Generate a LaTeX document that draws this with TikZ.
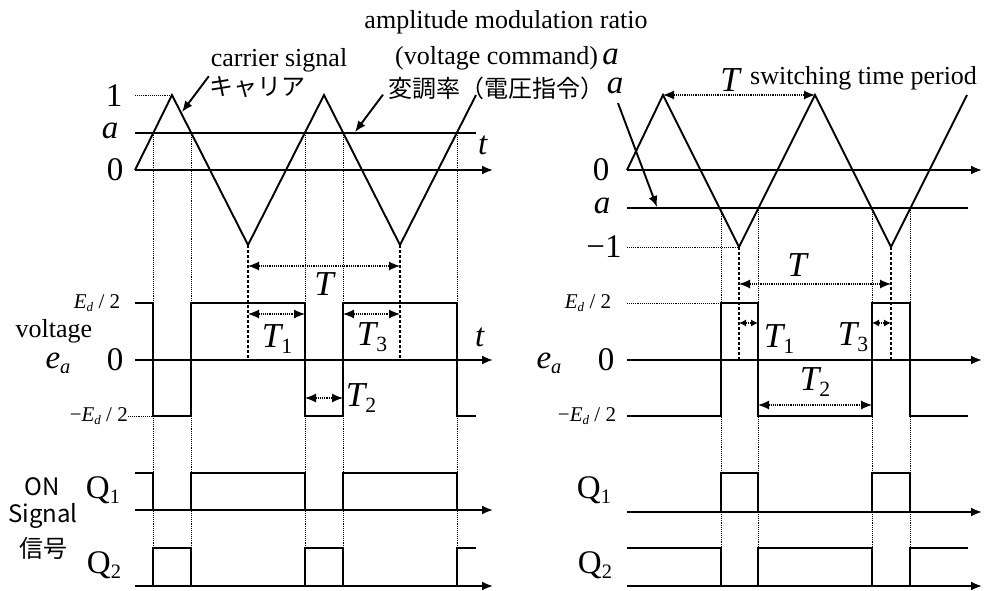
\documentclass[tikz,border=0pt]{standalone}
\usepackage{fontspec}
\usepackage{graphicx}
\setmainfont{Liberation Serif}
\newfontfamily\jpfont{Noto Sans CJK JP}
\usetikzlibrary{arrows.meta}
\newcommand{\sbs}[1]{\raisebox{-0.35ex}{\scalebox{0.62}{#1}}}

\begin{document}
\begin{tikzpicture}[
x=1pt, y=-1pt,
>={Latex[length=11pt,width=9pt]},
every node/.style={
inner sep=0pt,
font=\fontsize{26}{28}\selectfont
},
num/.style={font=\fontsize{33}{35}\selectfont},
big/.style={font=\fontsize{35}{37}\selectfont\itshape},
sml/.style={font=\fontsize{21}{23}\selectfont},
jp/.style={font=\fontsize{24}{26}\selectfont\jpfont},
wave/.style={line width=1.9pt},
ax/.style={line width=1.9pt, ->},
guide/.style={densely dotted, line width=0.9pt},
drop/.style={dash pattern=on 3pt off 2pt, line width=1.5pt},
span/.style={densely dotted, line width=1.2pt, <->},
narrow/.style={densely dotted, line width=1.2pt, {Latex[length=7pt,width=7pt]}-{Latex[length=7pt,width=7pt]}}
]

\useasboundingbox (0,0) rectangle (984,590);

\node (AM) at (506,22)
{amplitude modulation ratio};

\node[anchor=west] (VC) at (395,58)
{(voltage command)\,\textit{\fontsize{33}{35}\selectfont a}};

\node (CS) at (279,60)
{carrier signal};

\node[jp] (K) at (257,87)
{キャリア};

\node[jp, anchor=west] (M) at (388,88)
{変調率（電圧指令）};

\node[num] (Ma) at (615,86)
{\textit{a}};

\node[big] (ST) at (730,80)
{T};

\node[anchor=west] (SW) at (750,78)
{switching time period};

\coordinate (k) at (182,112);
\coordinate (m) at (355,132);
\coordinate (r) at (657,207);

\draw[wave,->] (K.north west) -- (k);
\draw[wave,->] ([shift={(-5,-5)}]M.south west) -- (m);
\draw[wave,->] ([shift={(3,9)}]Ma.south) -- (r);

\draw[ax] (135,170) -- (493,170);
\draw[wave] (135,133) -- (476,133);
\draw[guide] (135,95) -- (172,95);
\draw[wave] (135,170) -- (172,95) -- (248,245) -- (324,95) -- (400,245) -- (476,95);
\draw[guide] (153,133) -- (153,586);
\draw[guide] (191,133) -- (191,586);
\draw[guide] (305,133) -- (305,586);
\draw[guide] (343,133) -- (343,586);
\draw[guide] (457,133) -- (457,586);
\draw[drop] (248,245) -- (248,360);
\draw[drop] (400,245) -- (400,360);

\draw[ax] (135,360) -- (493,360);
\draw[wave] (135,303) -- (153,303) -- (153,416) -- (191,416) -- (191,303) -- (305,303) -- (305,416) -- (343,416) -- (343,303) -- (457,303) -- (457,416) -- (476,416);

\draw[ax] (135,510) -- (493,510);
\draw[wave] (135,473) -- (153,473) -- (153,510);
\draw[wave] (191,510) -- (191,473) -- (305,473) -- (305,510);
\draw[wave] (343,510) -- (343,473) -- (457,473) -- (457,510);
\draw[ax] (135,586) -- (493,586);
\draw[wave] (153,586) -- (153,548) -- (191,548) -- (191,586);
\draw[wave] (305,586) -- (305,548) -- (343,548) -- (343,586);
\draw[wave] (457,586) -- (457,548) -- (476,548);

\draw[span] (248,266) -- (400,266);
\draw[span] (248,314) -- (305,314);
\draw[span] (343,314) -- (400,314);
\draw[span] (305,398) -- (343,398);

\node[num] (L1) at (114,96)
{1};

\node[num] (La) at (110,131)
{\textit{a}};

\node[num] (L0) at (115,170)
{0};

\node[num] (Lt) at (483,145)
{\textit{t}};

\node[sml] (LE) at (97,303)
{\textit{E}\sbs{\textit{d}} / 2};

\node (LV) at (54,331)
{voltage};

\node[num] (Le) at (58,363)
{\textit{e}\sbs{\textit{a}}};

\node[num] (Lz) at (115,360)
{0};

\node[num] (Lt2) at (480,337)
{\textit{t}};

\node[sml, anchor=east] (Lm) at (128,416)
{−\textit{E}\sbs{\textit{d}} / 2};

\draw[guide] (Lm.east) -- (153,416);

\node[big] (LT) at (324,284)
{T};

\node[big] (LT1) at (277,339)
{T\sbs{\upshape 1}};

\node[big] (LT3) at (372,337)
{T\sbs{\upshape 3}};

\node[big] (LT2) at (361,398)
{T\sbs{\upshape 2}};

\node[num] (LQ1) at (103,490)
{Q\sbs{1}};

\node[num] (LQ2) at (104,565)
{Q\sbs{2}};

\node[jp] (ON) at (42,487)
{ON};

\node[jp] (SG) at (43,516)
{Signal};

\node[jp] (XH) at (43,548)
{信号};

\draw[ax] (627,170) -- (982,170);
\draw[wave] (627,208) -- (968,208);
\draw[guide] (627,247) -- (739,247);
\draw[wave] (627,170) -- (663,95) -- (739,247) -- (815,95) -- (891,247) -- (967,95);
\draw[guide] (721,208) -- (721,586);
\draw[guide] (758,208) -- (758,586);
\draw[guide] (872,208) -- (872,586);
\draw[guide] (910,208) -- (910,586);
\draw[drop] (739,247) -- (739,360);
\draw[drop] (891,247) -- (891,360);

\draw[ax] (627,360) -- (982,360);
\draw[guide] (627,303) -- (721,303);
\draw[wave] (627,416) -- (721,416) -- (721,303) -- (758,303) -- (758,416) -- (872,416) -- (872,303) -- (910,303) -- (910,416) -- (968,416);

\draw[ax] (627,512) -- (982,512);
\draw[wave] (721,512) -- (721,473) -- (758,473) -- (758,512);
\draw[wave] (872,512) -- (872,473) -- (910,473) -- (910,512);
\draw[ax] (627,586) -- (982,586);
\draw[wave] (627,548) -- (721,548) -- (721,586);
\draw[wave] (758,586) -- (758,548) -- (872,548) -- (872,586);
\draw[wave] (910,586) -- (910,548) -- (968,548);

\draw[span] (663,95) -- (815,95);
\draw[span] (739,284) -- (891,284);
\draw[narrow] (739,323) -- (758,323);
\draw[narrow] (872,323) -- (891,323);
\draw[span] (758,405) -- (872,405);

\node[num] (R0) at (601,170)
{0};

\node[num] (Ra) at (602,206)
{\textit{a}};

\node[num] (R1) at (604,247)
{−1};

\node[sml] (RE) at (588,303)
{\textit{E}\sbs{\textit{d}} / 2};

\node[num] (Re) at (549,363)
{\textit{e}\sbs{\textit{a}}};

\node[num] (Rz) at (606,360)
{0};

\node[sml] (Rm) at (587,416)
{−\textit{E}\sbs{\textit{d}} / 2};

\node[big] (RT) at (797,265)
{T};

\node[big] (RT1) at (779,339)
{T\sbs{\upshape 1}};

\node[big] (RT3) at (853,337)
{T\sbs{\upshape 3}};

\node[big] (RT2) at (815,382)
{T\sbs{\upshape 2}};

\node[num] (RQ1) at (594,490)
{Q\sbs{1}};

\node[num] (RQ2) at (595,565)
{Q\sbs{2}};

\end{tikzpicture}
\end{document}
